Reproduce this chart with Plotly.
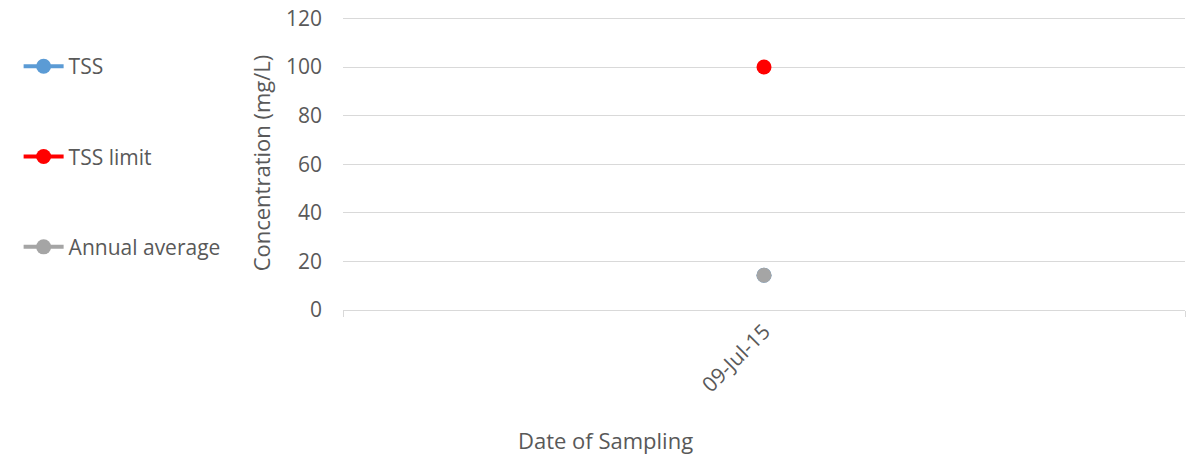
import plotly.graph_objects as go

dates = ["09-Jul-15"]
tss = [14.3]
tss_limit = [100]
annual_avg = [14.3]

FONT = "Open Sans"
TXT = "#595959"

fig = go.Figure()
series = [
    ("TSS", tss, "#5b9bd5"),
    ("TSS limit", tss_limit, "#ff0000"),
    ("Annual average", annual_avg, "#a5a5a5"),
]
for i, (name, vals, col) in enumerate(series):
    fig.add_trace(go.Scatter(
        x=dates, y=vals, name=name, mode="lines+markers",
        line=dict(color=col, width=4),
        marker=dict(color=col, size=15),
        legendgroup=f"g{i}",
    ))

fig.update_layout(
    width=1186, height=461,
    margin=dict(l=343, r=1, t=16, b=151, autoexpand=False),
    paper_bgcolor="white", plot_bgcolor="white",
    font=dict(family=FONT, size=21, color=TXT),
    showlegend=True,
    legend=dict(
        xref="container", yref="container",
        x=0.0157, y=0.9, xanchor="left", yanchor="top",
        tracegroupgap=60, itemwidth=40,
        font=dict(family=FONT, size=21, color=TXT),
        bgcolor="rgba(0,0,0,0)",
    ),
    xaxis=dict(
        type="category",
        range=[-0.5, 0.5],
        showgrid=False,
        showline=True, linecolor="#d9d9d9", linewidth=1,
        ticks="outside", tickson="boundaries", ticklen=6, tickcolor="#d9d9d9",
        tickangle=-45,
        tickfont=dict(family=FONT, size=21, color=TXT),
        zeroline=False,
    ),
    yaxis=dict(
        range=[0, 121], tick0=0, dtick=20,
        showgrid=True, gridcolor="#d9d9d9", gridwidth=1,
        zeroline=False, showline=False,
        ticks="", ticklabelstandoff=20,
        tickfont=dict(family=FONT, size=21, color=TXT),
        title=dict(text="Concentration (mg/L)", font=dict(family=FONT, size=22, color=TXT), standoff=9),
    ),
    annotations=[dict(
        text="Date of Sampling", xref="paper", yref="paper",
        x=0.312, y=-0.442, xanchor="center", yanchor="middle",
        showarrow=False, font=dict(family=FONT, size=22, color=TXT),
    )],
)

fig.write_html(
    "out.html",
    config={"displayModeBar": False},
    post_script="document.body.style.margin='0';document.body.style.overflow='hidden';",
)
